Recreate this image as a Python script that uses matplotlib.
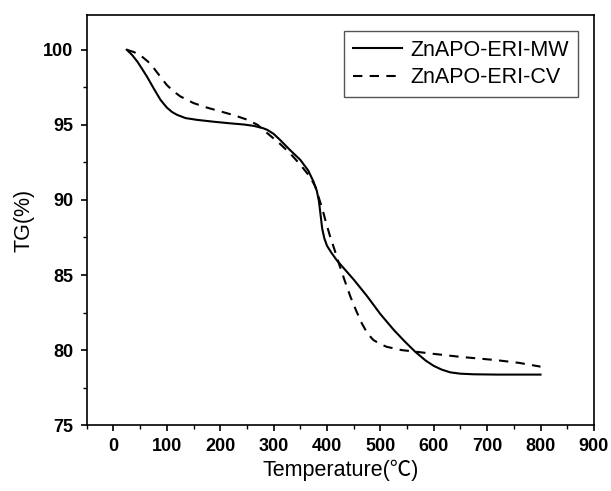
import matplotlib
matplotlib.use("Agg")
import matplotlib.pyplot as plt
from matplotlib.ticker import MultipleLocator

plt.rcParams['font.family'] = ['Liberation Sans', 'Noto Sans CJK SC', 'DejaVu Sans']

# ZnAPO-ERI-MW (solid)
mw_t = [25, 35, 45, 55, 63, 75, 88, 100, 110, 119, 135, 157, 190, 219, 245, 263, 280, 288,
        300, 312, 330, 350, 365, 375, 381, 385, 388, 391, 395, 400, 408, 418, 450, 475,
        500, 525, 545, 565, 585, 600, 615, 631, 650, 675, 720, 800]
mw_tg = [100, 99.65, 99.2, 98.65, 98.2, 97.45, 96.67, 96.15, 95.85, 95.67, 95.45, 95.33,
         95.2, 95.1, 95.02, 94.93, 94.78, 94.67, 94.4, 94.0, 93.35, 92.67, 91.95, 91.2,
         90.6, 89.9, 89.0, 88.1, 87.45, 86.95, 86.5, 86.0, 84.7, 83.6, 82.4, 81.35, 80.6,
         79.9, 79.3, 78.95, 78.7, 78.52, 78.43, 78.39, 78.37, 78.37]

# ZnAPO-ERI-CV (dashed)
cv_t = [25, 38, 50, 65, 75, 88, 100, 112, 125, 150, 175, 200, 225, 250, 270, 288, 310,
        331, 350, 368, 378, 386, 391, 397, 406, 414, 422, 433, 444, 455, 465, 476, 487,
        500, 512, 540, 565, 600, 650, 718, 760, 800]
cv_tg = [100, 99.85, 99.65, 99.2, 98.8, 98.2, 97.65, 97.25, 96.9, 96.45, 96.15, 95.9,
         95.65, 95.35, 95.0, 94.45, 93.8, 93.1, 92.35, 91.55, 90.9, 90.0, 89.45, 88.65,
         87.55, 86.7, 85.8, 84.65, 83.55, 82.6, 81.8, 81.1, 80.67, 80.4, 80.22, 80.0,
         79.9, 79.75, 79.55, 79.33, 79.15, 78.9]

fig = plt.figure(figsize=(6.11, 4.91), dpi=100)
ax = fig.add_axes([0.142, 0.134, 0.830, 0.835])

ax.plot(mw_t, mw_tg, color='black', lw=1.5, label='ZnAPO-ERI-MW')
ax.plot(cv_t, cv_tg, color='black', lw=1.5, ls=(0, (4.5, 3.5)), label='ZnAPO-ERI-CV')

ax.set_xlim(-50, 900)
ax.set_ylim(75, 102.3)
ax.xaxis.set_major_locator(MultipleLocator(100))
ax.xaxis.set_minor_locator(MultipleLocator(50))
ax.yaxis.set_major_locator(MultipleLocator(5))
ax.yaxis.set_minor_locator(MultipleLocator(2.5))
ax.tick_params(which='major', direction='out', length=4.5, width=1.2, labelsize=13, pad=5)
ax.tick_params(which='minor', direction='out', length=2.8, width=1.0)
for lab in ax.get_xticklabels() + ax.get_yticklabels():
    lab.set_fontweight('bold')
for s in ax.spines.values():
    s.set_linewidth(1.2)

ax.set_xlabel('Temperature(℃)', fontsize=15.5, labelpad=3)
ax.set_ylabel('TG(%)', fontsize=15.5, labelpad=6)

leg = ax.legend(loc='upper right', fontsize=15.5, fancybox=False, framealpha=1,
                edgecolor='#555555', handlelength=2.3, handletextpad=0.4,
                borderpad=0.4, labelspacing=0.3, borderaxespad=0.75)
leg.get_frame().set_linewidth(1.0)

fig.savefig('out.png', dpi=100)
